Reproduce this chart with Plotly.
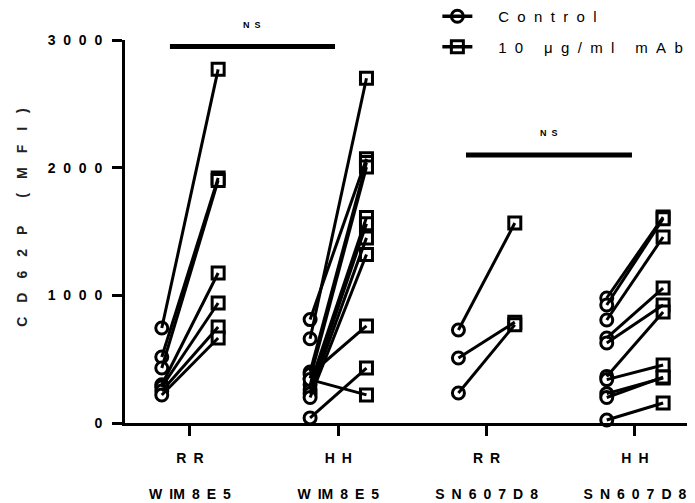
import plotly.graph_objects as go

# ---- data ----
categories = ["RR WIM8E5", "HH WIM8E5", "RR SN607D8", "HH SN607D8"]
tick_line1 = ["R R", "H H", "R R", "H H"]
tick_line2 = ["W IM 8 E 5", "W IM 8 E 5", "S N 6 0 7 D 8", "S N 6 0 7 D 8"]
cat_pos = [0, 1, 2, 3]

ctrl_rr_wim = [744, 517, 431, 300, 282, 250, 219]
mab_rr_wim = [2770, 1920, 1900, 1175, 940, 752, 666]
ctrl_hh_wim = [660, 810, 400, 350, 300, 260, 230, 200, 380, 40, 340]
mab_hh_wim = [2700, 2070, 2040, 2005, 1610, 1560, 1450, 1320, 760, 430, 220]
ctrl_rr_sn = [728, 509, 235]
mab_rr_sn = [1566, 790, 770]
ctrl_hh_sn = [979, 924, 807, 666, 627, 365, 340, 230, 200, 23]
mab_hh_sn = [1613, 1600, 1457, 1057, 924, 869, 454, 352, 360, 157]

controls = [ctrl_rr_wim, ctrl_hh_wim, ctrl_rr_sn, ctrl_hh_sn]
treated = [mab_rr_wim, mab_hh_wim, mab_rr_sn, mab_hh_sn]

y_ticks = [0, 1000, 2000, 3000]
y_ticktext = ["0", "1 0 0 0", "2 0 0 0", "3 0 0 0"]

# significance bars: (x_start, x_end, y, label_x, label_y)
sig_bars = [(-0.135, 0.978, 2949, 0.418, 3117), (1.861, 2.98, 2099, 2.42, 2271)]

offset = 0.19
FONT = "Arial, Liberation Sans, sans-serif"
NB = "\u00a0"
NB2 = NB * 2
EN = "\u2002"
EM = "\u2003"


def spaced(s, gap):
    return s.replace(" ", gap)


fig = go.Figure()

cx, cy, tx, ty, lx, ly = [], [], [], [], [], []
for p, cvals, tvals in zip(cat_pos, controls, treated):
    for a, b in zip(cvals, tvals):
        cx.append(p - offset); cy.append(a)
        tx.append(p + offset); ty.append(b)
        lx += [p - offset, p + offset, None]
        ly += [a, b, None]

fig.add_trace(go.Scatter(x=cx, y=cy, mode="markers", showlegend=False, cliponaxis=False,
                         marker=dict(symbol="circle", size=12, color="white",
                                     line=dict(color="black", width=3))))
fig.add_trace(go.Scatter(x=tx, y=ty, mode="markers", showlegend=False, cliponaxis=False,
                         marker=dict(symbol="square", size=12, color="white",
                                     line=dict(color="black", width=3))))
fig.add_trace(go.Scatter(x=lx, y=ly, mode="lines", showlegend=False, cliponaxis=False,
                         line=dict(color="black", width=3)))

# legend entries
lead = NB * 5
fig.add_trace(go.Scatter(x=[None], y=[None], mode="lines+markers",
                         name=lead + NB2.join(list("Control")),
                         legendgroup="a",
                         line=dict(color="black", width=3.5),
                         marker=dict(symbol="circle", size=12, color="rgba(0,0,0,0)",
                                     line=dict(color="black", width=3))))
fig.add_trace(go.Scatter(x=[None], y=[None], mode="lines+markers",
                         name=lead + "1" + NB2 + "0" + NB * 5 + NB2.join(list("μg/ml"))
                              + NB * 5 + NB2.join(list("mAb")),
                         legendgroup="b",
                         line=dict(color="black", width=3.5),
                         marker=dict(symbol="square", size=12, color="rgba(0,0,0,0)",
                                     line=dict(color="black", width=3))))

for x0, x1, yb, tx_, ty_ in sig_bars:
    fig.add_shape(type="line", x0=x0, x1=x1, y0=yb, y1=yb, xref="x", yref="y",
                  line=dict(color="black", width=5))
    fig.add_annotation(x=tx_, y=ty_ / 3000.0, xref="x", yref="paper", text="<b>N" + NB2 + "S</b>",
                       showarrow=False, xanchor="center", yanchor="middle",
                       font=dict(family=FONT, size=9, color="black"))

title_txt = EM.join(["C", "D", "6", "2", "P"]) + EM + EM + EM.join(["(", "M", "F", "I", ")"])
fig.add_annotation(x=-0.181, y=0.538, xref="paper", yref="paper", textangle=-90,
                   xanchor="center", yanchor="middle",
                   text="<b>%s</b>" % title_txt, showarrow=False,
                   font=dict(family=FONT, size=14, color="#222"))

fig.update_layout(
    width=687, height=495,
    margin=dict(l=117, r=0, t=32, b=80, autoexpand=False),
    plot_bgcolor="white", paper_bgcolor="white",
    font=dict(family=FONT, color="black"),
    legend=dict(x=0.548, y=1.1044, xanchor="left", yanchor="top",
                font=dict(family=FONT, size=15, color="black"),
                tracegroupgap=8, bgcolor="rgba(0,0,0,0)"),
    xaxis=dict(range=[-0.438, 3.405], tickmode="array", tickvals=cat_pos,
               ticktext=["<b>%s</b><br><br><b>%s</b>" % (spaced(a, EN), spaced(b, EN))
                         for a, b in zip(tick_line1, tick_line2)],
               ticks="outside", ticklen=10, tickwidth=3, tickcolor="black",
               showline=True, linewidth=3, linecolor="black", showgrid=False, zeroline=False,
               tickfont=dict(family=FONT, size=14, color="black"), ticklabelstandoff=10),
    yaxis=dict(range=[0, 3000], tickmode="array", tickvals=y_ticks,
               ticktext=["<b>%s</b>" % spaced(t, NB2) for t in y_ticktext],
               ticks="outside", ticklen=10, tickwidth=3, tickcolor="black",
               showline=True, linewidth=3, linecolor="black", showgrid=False, zeroline=False,
               tickfont=dict(family=FONT, size=14, color="black"), ticklabelstandoff=7),
)

fig.write_html("out.html")
